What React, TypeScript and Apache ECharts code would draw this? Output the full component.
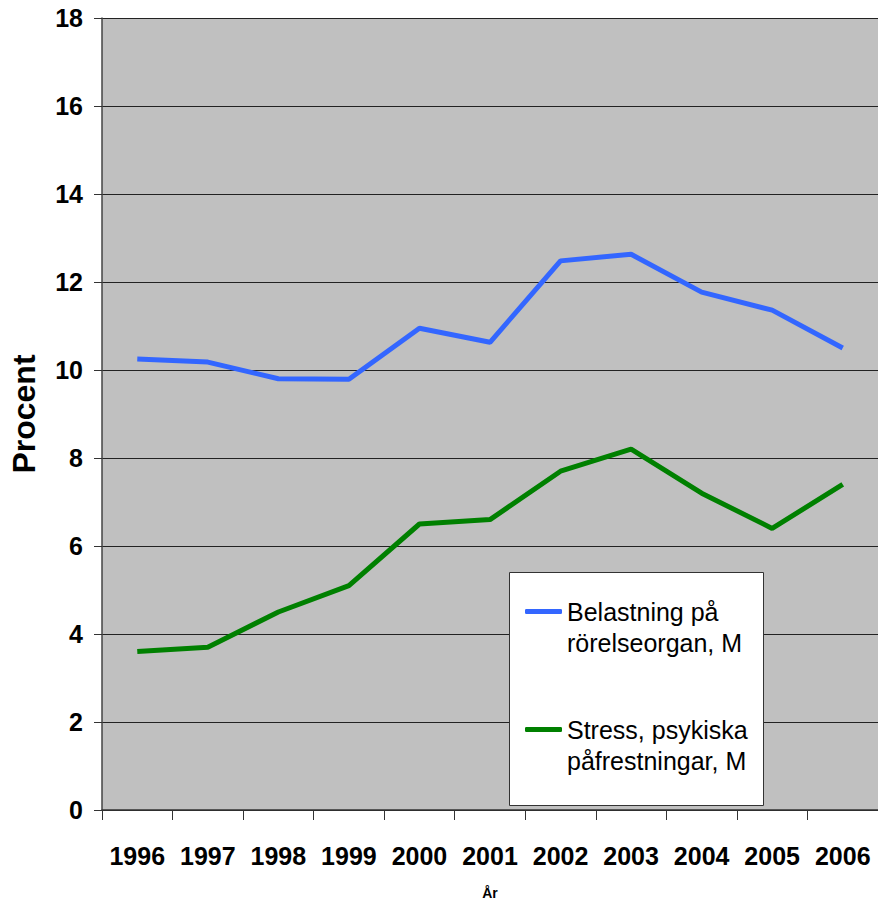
import React, { useEffect, useRef } from "react";
import * as echarts from "echarts";

const years = ["1996", "1997", "1998", "1999", "2000", "2001", "2002", "2003", "2004", "2005", "2006"];
const belastning = [10.25, 10.18, 9.8, 9.79, 10.95, 10.63, 12.48, 12.63, 11.77, 11.36, 10.5];
const stress = [3.6, 3.7, 4.5, 5.1, 6.5, 6.6, 7.7, 8.2, 7.2, 6.4, 7.4];
const seriesNames = ["Belastning på\nrörelseorgan, M", "Stress, psykiska\npåfrestningar, M"];
const seriesColors = ["#3366FF", "#008000"];
const yAxisTitle = "Procent";
const xAxisTitle = "År";

const FONT = "'Liberation Sans', Arial, sans-serif";

export default function App() {
  const ref = useRef<HTMLDivElement>(null);
  useEffect(() => {
    if (!ref.current) return;
    const chart = echarts.init(ref.current, undefined, { renderer: "svg" });
    chart.setOption({
      animation: false,
      textStyle: { fontFamily: FONT },
      grid: {
        left: 98,
        right: -2,
        top: 18,
        bottom: 905 - 812,
        show: true,
        backgroundColor: "#C0C0C0",
        borderWidth: 0,
      },
      xAxis: {
        type: "category",
        data: years,
        boundaryGap: true,
        name: xAxisTitle,
        nameLocation: "middle",
        nameGap: 76,
        nameTextStyle: { fontSize: 14, fontWeight: "bold", color: "#000", fontFamily: FONT },
        axisLine: { show: true, lineStyle: { color: "#333", width: 1.5 } },
        axisTick: { show: true, length: 10, interval: 0, lineStyle: { color: "#333" } },
        axisLabel: {
          interval: 0,
          margin: 33,
          fontSize: 25,
          fontWeight: "bold",
          color: "#000",
          fontFamily: FONT,
        },
        splitLine: { show: false },
      },
      yAxis: {
        type: "value",
        min: 0,
        max: 18,
        interval: 2,
        name: yAxisTitle,
        nameLocation: "middle",
        nameRotate: 90,
        nameGap: 62,
        nameTextStyle: { fontSize: 32, fontWeight: "bold", color: "#000", fontFamily: FONT },
        axisLine: { show: true, lineStyle: { color: "#444", width: 1.5 } },
        axisTick: { show: true, length: 8, inside: false, lineStyle: { color: "#333" } },
        axisLabel: {
          margin: 19,
          fontSize: 25,
          fontWeight: "bold",
          color: "#000",
          fontFamily: FONT,
        },
        splitLine: { show: true, lineStyle: { color: "#222", width: 1 } },
      },
      legend: {
        orient: "vertical",
        left: 525,
        top: 565,
        padding: 0,
        itemGap: 25,
        itemWidth: 37,
        itemHeight: 5,
        icon: "roundRect",
        z: 5,
        formatter: (name: string) => "\n" + name,
        textStyle: { fontSize: 25, lineHeight: 31, color: "#000", fontFamily: FONT },
        data: seriesNames,
      },
      graphic: [
        {
          type: "rect",
          left: 509,
          top: 572,
          z: 4,
          shape: { width: 254, height: 233 },
          style: { fill: "#fff", stroke: "#333", lineWidth: 1 },
        },
      ],
      series: [
        {
          type: "line",
          name: seriesNames[0],
          data: belastning,
          symbol: "none",
          color: seriesColors[0],
          lineStyle: { width: 5, color: seriesColors[0] },
        },
        {
          type: "line",
          name: seriesNames[1],
          data: stress,
          symbol: "none",
          color: seriesColors[1],
          lineStyle: { width: 5, color: seriesColors[1] },
        },
      ],
    });
    return () => chart.dispose();
  }, []);
  return (
    <div
      ref={ref}
      style={{ position: "absolute", left: 0, top: 0, width: 878, height: 905, background: "#fff" }}
    />
  );
}
